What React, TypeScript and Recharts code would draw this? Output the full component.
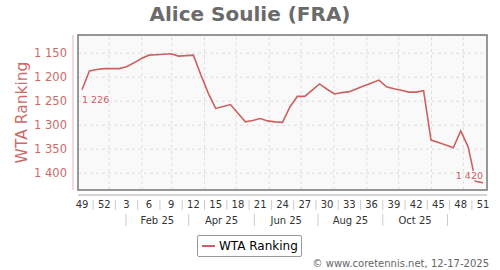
import React from 'react';
import {
  LineChart,
  Line,
  XAxis,
  YAxis,
  CartesianGrid,
  ReferenceLine,
  Legend,
} from 'recharts';

// weekly WTA ranking, week 49 (2024) .. week 51 (2025)
const weekIndex = Array.from({ length: 55 }, (_, i) => i);
const ranking = [
  1226, 1187, 1184, 1182, 1182, 1182, 1178, 1170, 1161, 1154,
  1153, 1152, 1151, 1156, 1155, 1154, 1195, 1233, 1265, 1261,
  1257, 1275, 1293, 1290, 1286, 1291, 1293, 1294, 1262, 1240,
  1240, 1227, 1214, 1225, 1235, 1232, 1230, 1224, 1218, 1212,
  1206, 1220, 1224, 1227, 1231, 1231, 1228, 1331, 1336, 1341,
  1347, 1312, 1345, 1417, 1420,
];
const weekLabels = [
  '49', '52', '3', '6', '9', '12', '15', '18', '21', '24',
  '27', '30', '33', '36', '39', '42', '45', '48', '51',
];
const yTicks = [1150, 1200, 1250, 1300, 1350, 1400];
const monthStarts = [
  '2025-01-01', '2025-02-01', '2025-03-01', '2025-04-01', '2025-05-01', '2025-06-01',
  '2025-07-01', '2025-08-01', '2025-09-01', '2025-10-01', '2025-11-01', '2025-12-01',
];
const monthBreaks = ['2025-01-17', '2025-03-17', '2025-05-18', '2025-07-17', '2025-09-16', '2025-11-16'];
const monthLabels = ['Feb 25', 'Apr 25', 'Jun 25', 'Aug 25', 'Oct 25'];

const RED = '#cd6060';
const FONT = 'DejaVu Sans, sans-serif';

// first data point date, used to place calendar dates on the week axis
const D0 = Date.UTC(2024, 11, 6, 12);
const toIdx = (iso: string) => (Date.parse(iso + 'T00:00:00Z') - D0) / (7 * 864e5);

const data = weekIndex.map((w, i) => ({ w, rank: ranking[i] }));

const weekTicks: number[] = [];
for (let i = 0; i < weekLabels.length; i++) {
  weekTicks.push(i * 3);
  if (i < weekLabels.length - 1) weekTicks.push(i * 3 + 1.5);
}

const breakIdx = monthBreaks.map(toIdx);
const labelIdx = monthLabels.map((_, i) => (breakIdx[i] + breakIdx[i + 1]) / 2);
const monthTicks = [...breakIdx, ...labelIdx].sort((a, b) => a - b);

const W = 500;
const H = 270;
const M = { top: 35, right: 13, bottom: 40, left: 0 };
const Y_W = 78;
const AX_H = 20;
const plotL = M.left + Y_W;
const plotR = W - M.right;
const plotT = M.top;
const plotB = H - M.bottom - AX_H * 2;

const fmt = (v: number) => {
  const s = String(v);
  return s.length > 3 ? s.slice(0, s.length - 3) + ' ' + s.slice(-3) : s;
};

function WeekTick(p: any) {
  const { x, y, payload } = p;
  const v = payload.value;
  if (v % 3 === 0) {
    return (
      <text x={x} y={y + 18} textAnchor="middle" fontSize={10} fill="#333" fontFamily={FONT}>
        {weekLabels[v / 3]}
      </text>
    );
  }
  return <line x1={x} x2={x} y1={y + 10} y2={y + 20} stroke="#ccc" />;
}

function MonthTick(p: any) {
  const { x, y, payload } = p;
  const li = labelIdx.findIndex(v => Math.abs(v - payload.value) < 1e-6);
  if (li >= 0) {
    return (
      <text x={x} y={y + 14} textAnchor="middle" fontSize={10} fill="#333" fontFamily={FONT}>
        {monthLabels[li]}
      </text>
    );
  }
  return <line x1={x} x2={x} y1={y + 4} y2={y + 16} stroke="#ccc" />;
}

function EndLabel(p: any) {
  const { x, y, index, value } = p;
  const common = {
    fontSize: 9.5,
    fill: RED,
    fontFamily: FONT,
    stroke: '#f9f9f9',
    strokeWidth: 2.5,
    paintOrder: 'stroke' as const,
  };
  if (index === 0) {
    return (
      <text x={x} y={y + 13} textAnchor="start" {...common}>
        {fmt(value)}
      </text>
    );
  }
  if (index === ranking.length - 1) {
    return (
      <text x={x} y={y - 4} textAnchor="end" {...common}>
        {fmt(value)}
      </text>
    );
  }
  return null;
}

function LegendBox() {
  return (
    <div
      style={{
        display: 'flex',
        alignItems: 'center',
        border: '1px solid #999',
        borderRadius: 2,
        height: 20,
        padding: '0 3px 0 4px',
        background: '#fff',
        fontFamily: FONT,
        fontSize: 12,
        color: '#000',
      }}
    >
      <span style={{ display: 'inline-block', width: 13, height: 2, background: RED, marginRight: 4 }} />
      WTA Ranking
    </div>
  );
}

export default function App() {
  return (
    <div style={{ position: 'absolute', left: 0, top: 0, width: W, height: H, background: '#fff' }}>
      <LineChart width={W} height={H} data={data} margin={M}>
        <CartesianGrid vertical={false} stroke="#ddd" strokeDasharray="3 3" fill="#f9f9f9" fillOpacity={1} />
        {monthStarts.map(d => (
          <ReferenceLine key={d} x={toIdx(d)} stroke="#ddd" strokeDasharray="3 3" />
        ))}
        <XAxis
          dataKey="w"
          type="number"
          domain={[0, 54]}
          ticks={weekTicks}
          interval={0}
          padding={{ left: 4, right: 4 }}
          height={AX_H}
          axisLine={false}
          tickLine={false}
          tickSize={0}
          tickMargin={0}
          tick={<WeekTick />}
        />
        <XAxis
          xAxisId="m"
          dataKey="w"
          type="number"
          domain={[0, 54]}
          ticks={monthTicks}
          interval={0}
          padding={{ left: 4, right: 4 }}
          height={AX_H}
          axisLine={false}
          tickLine={false}
          tickSize={0}
          tickMargin={0}
          tick={<MonthTick />}
        />
        <YAxis
          width={Y_W}
          reversed
          domain={[1112, 1435]}
          ticks={yTicks}
          interval={0}
          allowDataOverflow
          axisLine={false}
          tickLine={false}
          tickSize={0}
          tickMargin={11}
          tickFormatter={fmt}
          tick={{ fontSize: 11.5, fill: '#c86b6b', fontFamily: FONT }}
        />
        <Line
          dataKey="rank"
          name="WTA Ranking"
          stroke={RED}
          strokeWidth={1.6}
          dot={false}
          label={<EndLabel />}
          isAnimationActive={false}
        />
        <Legend
          layout="horizontal"
          verticalAlign="middle"
          align="center"
          wrapperStyle={{ top: 235, left: 197, width: 'auto' }}
          content={<LegendBox />}
        />
      </LineChart>
      <svg
        width={W}
        height={H}
        style={{ position: 'absolute', left: 0, top: 0, pointerEvents: 'none' }}
        fontFamily={FONT}
      >
        <rect x={plotL} y={plotT} width={plotR - plotL} height={plotB - plotT} fill="none" stroke="#777" strokeWidth={1.5} />
        <line x1={plotL - 5} x2={plotL - 5} y1={plotT} y2={plotB} stroke="#e3b5b5" strokeWidth={1} />
        <line x1={plotL} x2={plotR} y1={plotB + 5} y2={plotB + 5} stroke="#aaa" strokeWidth={1.2} />
        <text x={W / 2} y={21} textAnchor="middle" fontSize={20} fontWeight="bold" fill="#6b6b6b">
          Alice Soulie (FRA)
        </text>
        <text
          x={0}
          y={0}
          transform={`translate(27, ${(plotT + plotB) / 2}) rotate(-90)`}
          textAnchor="middle"
          fontSize={15.5}
          fill="#cd6a6a"
        >
          WTA Ranking
        </text>
        <text x={489} y={267} textAnchor="end" fontSize={10} fill="#666">
          © www.coretennis.net, 12-17-2025
        </text>
      </svg>
    </div>
  );
}
